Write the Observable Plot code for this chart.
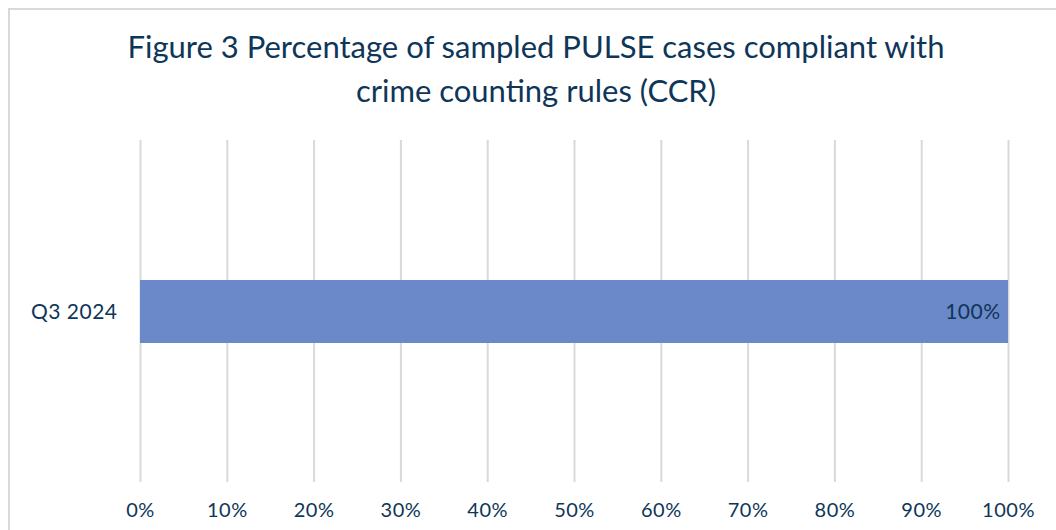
<!DOCTYPE html>
<html>
<head>
<meta charset="utf-8">
<script src="https://cdn.jsdelivr.net/npm/d3@7"></script>
<script src="https://cdn.jsdelivr.net/npm/@observablehq/plot@0.6"></script>
<style>
  html, body { margin: 0; padding: 0; background: #fff; }
  #wrap { position: relative; width: 1056px; height: 530px; overflow: hidden; background: #fff; font-family: Lato, "Open Sans", sans-serif; }
  #frame { position: absolute; left: 8px; top: 8px; width: 1100px; height: 600px; border: 2px solid #d9d9d9; box-sizing: border-box; }
  #title { position: absolute; left: 0; top: 24px; width: 1072px; text-align: center; font-size: 31px; line-height: 44px; color: #0e3658; }
  #chart { position: absolute; left: 0; top: 0; }
</style>
</head>
<body>
<div id="wrap">
  <div id="frame"></div>
  <div id="title">Figure 3 Percentage of sampled PULSE cases compliant with<br>crime counting rules (CCR)</div>
  <div id="chart"></div>
</div>
<script>
const categories = ["Q3 2024"];
const values = [100];
const ticks = [0, 10, 20, 30, 40, 50, 60, 70, 80, 90, 100];
const labels = ["100%"];

const data = categories.map((c, i) => ({cat: c, value: values[i], label: labels[i]}));

const ink = "#0e3658";
const plot = Plot.plot({
  width: 1056,
  height: 530,
  marginLeft: 140,
  marginRight: 48,
  marginTop: 140,
  marginBottom: 48,
  style: {fontFamily: "Lato, 'Open Sans', sans-serif", fontSize: "20px", color: ink, background: "transparent", overflow: "visible", letterSpacing: "0.5px"},
  x: {domain: [0, 100], ticks: ticks, tickFormat: d => d + "%", label: null},
  y: {domain: categories, padding: 0.69, label: null},
  marks: [
    Plot.gridX(ticks, {stroke: "#d9d9d9", strokeOpacity: 1, strokeWidth: 2}),
    Plot.barX(data, {x: "value", y: "cat", fill: "#6b88c8"}),
    Plot.text(data, {x: "value", y: "cat", text: "label", textAnchor: "end", dx: -8, fill: ink, fontSize: 21}),
    Plot.axisX({ticks: ticks, tickFormat: d => d + "%", tickSize: 0, tickPadding: 20, fontSize: 20, fill: ink, label: null}),
    Plot.axisY({tickSize: 0, tickPadding: 23, fontSize: 21, fill: ink, label: null})
  ]
});
document.getElementById("chart").appendChild(plot);
</script>
</body>
</html>
